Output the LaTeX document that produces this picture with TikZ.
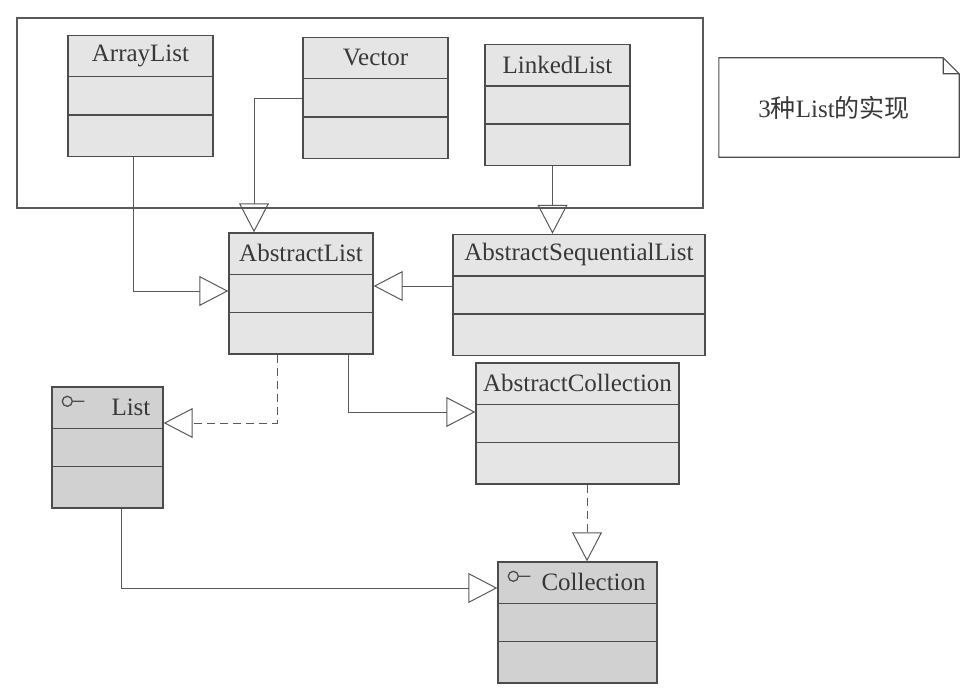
\documentclass[tikz,border=0pt]{standalone}
\usepackage{fontspec}
\setmainfont{Liberation Serif}
\newfontfamily\cjkfont{Noto Sans CJK SC}
\usetikzlibrary{arrows.meta}

\tikzset{
  classbox/.style={draw=black!70, line width=1.4pt, fill=black!10, minimum height=121pt, inner sep=0pt},
  ifacebox/.style={classbox, fill=black!18},
  classline/.style={draw=black!70, line width=1.4pt},
  classname/.style={font=\fontsize{25}{29}\selectfont, text=black!78, inner sep=0pt},
  inherit/.style={draw=black!65, line width=1pt, -{Triangle[open, length=29pt, width=30pt]}},
  realize/.style={inherit, dash pattern=on 8pt off 5pt},
  notebox/.style={draw=black!70, line width=1.1pt, fill=white},
}

\begin{document}
\begin{tikzpicture}[x=1pt,y=-1pt]
  \useasboundingbox (0,0) rectangle (977,693);

  % frame round the three implementations
  \draw[black!65, line width=1.1pt] (17,18) rectangle (703,208);

  % classes
  \foreach \name/\label/\x/\y/\w in {arraylist/ArrayList/140.5/96/145,
      vector/Vector/375.5/98/145, linkedlist/LinkedList/557.5/105/145,
      abstractlist/AbstractList/301/293.5/144,
      seqlist/AbstractSequentialList/579/295/252,
      abstractcoll/AbstractCollection/577.5/423.5/203} {
      \node[classbox, minimum width=\w] (\name) at (\x,\y) {};
      \node[classname] (\name-title) at ([yshift=-21pt]\name.north) {\label};
      \draw[classline] ([yshift=-42pt]\name.north west) -- ([yshift=-42pt]\name.north east)
                       ([yshift=-80pt]\name.north west) -- ([yshift=-80pt]\name.north east);
    }

  % interfaces
  \foreach \name/\label/\x/\y/\w/\tx in {list/List/107.5/447.5/111/60,
      collection/Collection/577.5/622.5/159/44} {
      \node[ifacebox, minimum width=\w] (\name) at (\x,\y) {};
      \node[classname, anchor=west] (\name-title) at ([xshift=\tx, yshift=-21pt]\name.north west) {\label};
      \draw[classline] ([yshift=-42pt]\name.north west) -- ([yshift=-42pt]\name.north east)
                       ([yshift=-80pt]\name.north west) -- ([yshift=-80pt]\name.north east);
      \draw[classline, line width=1.3pt] ([xshift=16pt, yshift=-15pt]\name.north west) circle (5pt)
                       ++(5pt,0) -- ++(12pt,0);
    }

  % note
  \node[minimum width=240pt, minimum height=99pt, inner sep=0pt] (note) at (839,107.5) {};
  \draw[notebox] (note.north west) -- ([xshift=-16pt]note.north east)
                 -- ([yshift=-16pt]note.north east) -- (note.south east)
                 -- (note.south west) -- cycle
                 ([xshift=-16pt]note.north east) -- ++(0,16) -- ([yshift=-16pt]note.north east);
  \node[classname] (note-text) at ([xshift=-5pt]note.center) {3{\cjkfont 种}List{\cjkfont 的实现}};

  % connectors
  \draw[inherit] ([xshift=-7pt]arraylist.south) |- ([yshift=2.5pt]abstractlist.west);
  \draw[inherit] (vector.west) -| ([xshift=-47pt]abstractlist.north);
  \draw[inherit] ([xshift=-5pt]linkedlist.south) -- ([xshift=-5pt]linkedlist.south |- seqlist.north);
  \draw[inherit] ([yshift=9pt]seqlist.west) -- ([yshift=9pt]seqlist.west -| abstractlist.east);
  \draw[realize] ([xshift=-24pt]abstractlist.south) |- ([yshift=24.5pt]list.east);
  \draw[inherit] ([xshift=47pt]abstractlist.south) |- ([yshift=11.5pt]abstractcoll.west);
  \draw[realize] ([xshift=9.5pt]abstractcoll.south) -- ([xshift=9.5pt]abstractcoll.south |- collection.north);
  \draw[inherit] ([xshift=13.5pt]list.south) |- ([yshift=34.5pt]collection.west);
\end{tikzpicture}
\end{document}
